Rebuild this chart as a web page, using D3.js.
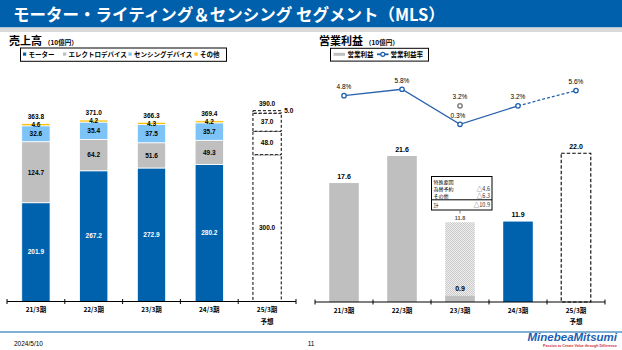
<!DOCTYPE html>
<html>
<head>
<meta charset="utf-8">
<script src="https://cdn.jsdelivr.net/npm/d3@7"></script>
<style>
  body { margin: 0; background: #fff; }
  svg { display: block; }
  text { font-family: "Liberation Sans", "Noto Sans CJK JP", sans-serif; }
  .jp { font-family: "Noto Sans CJK JP", sans-serif; }
</style>
</head>
<body>
<div id="svganchor"></div>
<script>
// --- data ---
let periods = ["21/3期", "22/3期", "23/3期", "24/3期", "25/3期"];
let segments = ["モーター", "エレクトロデバイス", "センシングデバイス", "その他"];
let motor = [201.9, 267.2, 272.9, 280.2, 300.0];
let electro = [124.7, 64.2, 51.6, 49.3, 48.0];
let sensing = [32.6, 35.4, 37.5, 35.7, 37.0];
let others = [4.6, 4.2, 4.3, 4.2, 5.0];
let sales = [363.8, 371.0, 366.3, 369.4, 390.0];
let opIncome = [17.6, 21.6, 0.9, 11.9, 22.0];
let opIncomeExSpecial = 11.8; // 23/3 before special factors
let opMargin = [4.8, 5.8, 0.3, 3.2, 5.6];
let opMarginExSpecial = 3.2;
let specialLabels = ["為替予約", "その他", "計"];
let specialValues = ["△4.6", "△6.3", "△10.9"];

let width = 622, height = 350;
let segColors = ["#0062ad", "#bfbfbf", "#7dc3f7", "#ffc000"];
let blue = "#0062ad";

let svg = d3.select("#svganchor").append("svg").attr("width", width).attr("height", height);

let defs = svg.append("defs");
let pat = defs.append("pattern").attr("id", "checker").attr("width", 2).attr("height", 2)
  .attr("patternUnits", "userSpaceOnUse");
pat.append("rect").attr("width", 2).attr("height", 2).attr("fill", "#f0f0f0");
pat.append("rect").attr("width", 1).attr("height", 1).attr("fill", "#c8c8c8");
pat.append("rect").attr("x", 1).attr("y", 1).attr("width", 1).attr("height", 1).attr("fill", "#c8c8c8");

// --- header ---
svg.append("rect").attr("x", 0).attr("y", 0).attr("width", width).attr("height", 27.5).attr("fill", "#0060ab");
svg.append("rect").attr("x", 0).attr("y", 27.5).attr("width", width).attr("height", 4.5).attr("fill", "#d9d9d9");
svg.append("text").attr("class", "jp").attr("x", 13).attr("y", 20.5)
  .attr("fill", "#fff").attr("font-size", 16.5).attr("font-weight", "bold")
  .text("モーター・ライティング＆センシング セグメント（MLS）");

// --- footer ---
svg.append("line").attr("x1", 0).attr("x2", width).attr("y1", 332).attr("y2", 332)
  .attr("stroke", "#0060ab").attr("stroke-width", 1.2);
svg.append("text").attr("x", 14).attr("y", 346).attr("font-size", 6.5).text("2024/5/10");
svg.append("text").attr("x", 311).attr("y", 346).attr("font-size", 6.5).attr("text-anchor", "middle").text("11");
svg.append("text").attr("x", 617).attr("y", 341).attr("font-size", 11.5).attr("font-weight", "bold")
  .attr("font-style", "italic").attr("text-anchor", "end").attr("fill", "#1a5fb4").text("MinebeaMitsumi");
svg.append("text").attr("x", 617).attr("y", 347).attr("font-size", 3.6).attr("font-weight", "bold")
  .attr("text-anchor", "end").attr("fill", "#d0303a").text("Passion to Create Value through Difference");

// helpers
function panelTitle(x, main) {
  let t = svg.append("text").attr("class", "jp").attr("x", x).attr("y", 45).attr("font-weight", "bold");
  t.append("tspan").attr("font-size", 11).text(main);
  t.append("tspan").attr("font-size", 6.5).attr("dx", 2).text("（10億円）");
}

function drawAxis(x, y0) {
  let g = svg.append("g");
  let r = x.range();
  g.append("line").attr("x1", r[0]).attr("x2", r[1]).attr("y1", y0).attr("y2", y0)
    .attr("stroke", "#000").attr("stroke-width", 1);
  let edges = periods.map(d => x(d)).concat([r[1]]);
  g.selectAll(".tk").data(edges).enter().append("line")
    .attr("x1", d => d).attr("x2", d => d).attr("y1", y0 - 2.5).attr("y2", y0 + 2.5)
    .attr("stroke", "#000").attr("stroke-width", 1);
  g.selectAll(".lb").data(periods).enter().append("text")
    .attr("class", "jp")
    .attr("x", d => x(d) + x.bandwidth() / 2).attr("y", y0 + 10.5)
    .attr("text-anchor", "middle").attr("font-size", 6.5).attr("font-weight", "bold")
    .text(d => d);
  g.append("text").attr("class", "jp")
    .attr("x", x(periods[4]) + x.bandwidth() / 2).attr("y", y0 + 22)
    .attr("text-anchor", "middle").attr("font-size", 6.5).attr("font-weight", "bold").text("予想");
}

// ================= left: sales =================
panelTitle(9, "売上高");

let lx = d3.scaleBand().domain(periods).range([7, 296]).padding(0);
let ly = d3.scaleLinear().domain([0, 390]).range([301.5, 110.7]);
let lbw = lx.bandwidth() * 0.49;

// legend
let lLeg = svg.append("g");
lLeg.append("rect").attr("x", 20.5).attr("y", 48).attr("width", 206).attr("height", 13.3)
  .attr("fill", "#fff").attr("stroke", "#000").attr("stroke-width", 1);
let legX = [23, 63, 128.5, 194.5];
segments.forEach((s, i) => {
  lLeg.append("rect").attr("x", legX[i]).attr("y", 52.5).attr("width", 3.2).attr("height", 3.2).attr("fill", segColors[i]);
  lLeg.append("text").attr("class", "jp").attr("x", legX[i] + 5.5).attr("y", 56.8)
    .attr("font-size", 6.5).attr("font-weight", "bold").text(s);
});

let stackData = periods.map((p, i) => ({ period: p, m: motor[i], e: electro[i], s: sensing[i], o: others[i] }));
let stack = d3.stack().keys(["m", "e", "s", "o"])(stackData);

let lBars = svg.append("g");
stack.forEach((layer, k) => {
  layer.forEach((d, i) => {
    let fc = i === 4;
    lBars.append("rect")
      .attr("x", lx(periods[i]) + (lx.bandwidth() - lbw) / 2)
      .attr("y", ly(d[1]))
      .attr("width", lbw)
      .attr("height", ly(d[0]) - ly(d[1]))
      .attr("fill", fc ? "#fff" : segColors[k])
      .attr("stroke", fc ? "#000" : "#fff")
      .attr("stroke-width", fc ? 1 : 0.8)
      .attr("stroke-dasharray", fc ? "3,2" : null);
  });
});

// segment labels
let segVals = [motor, electro, sensing, others];
stack.forEach((layer, k) => {
  layer.forEach((d, i) => {
    let cx = lx(periods[i]) + lx.bandwidth() / 2;
    let cy = (ly(d[0]) + ly(d[1])) / 2;
    let v = segVals[k][i];
    if (k === 3 && i === 4) {
      lBars.append("text").attr("x", lx(periods[i]) + (lx.bandwidth() + lbw) / 2 + 3).attr("y", ly(d[1]) + 2.5)
        .attr("font-size", 6.5).attr("font-weight", "bold").text(v.toFixed(1));
      return;
    }
    lBars.append("text").attr("x", cx).attr("y", cy + 2.3)
      .attr("text-anchor", "middle").attr("font-size", 6.5).attr("font-weight", "bold")
      .attr("fill", k === 0 && i < 4 ? "#fff" : "#000")
      .text(v.toFixed(1));
  });
});
// totals
sales.forEach((v, i) => {
  lBars.append("text").attr("x", lx(periods[i]) + lx.bandwidth() / 2).attr("y", ly(v) - 4.5)
    .attr("text-anchor", "middle").attr("font-size", 6.5).attr("font-weight", "bold").text(v.toFixed(1));
});

drawAxis(lx, 301.5);

// ================= right: operating income =================
panelTitle(319, "営業利益");

let rx = d3.scaleBand().domain(periods).range([315, 605]).padding(0);
let ry = d3.scaleLinear().domain([0, 22]).range([302, 153.3]);
let rm = d3.scaleLinear().domain([0, 6]).range([126.2, 88.0]);
let rbw = rx.bandwidth() * 0.51;
let rcx = p => rx(p) + rx.bandwidth() / 2;

// legend
let rLeg = svg.append("g");
rLeg.append("rect").attr("x", 330.5).attr("y", 48.3).attr("width", 98).attr("height", 12.8)
  .attr("fill", "#fff").attr("stroke", "#000").attr("stroke-width", 1);
rLeg.append("rect").attr("x", 333.5).attr("y", 52.8).attr("width", 11.5).attr("height", 3).attr("fill", "#bfbfbf");
rLeg.append("text").attr("class", "jp").attr("x", 347.5).attr("y", 56.8).attr("font-size", 6.5).attr("font-weight", "bold").text("営業利益");
rLeg.append("line").attr("x1", 377).attr("x2", 388.5).attr("y1", 54.3).attr("y2", 54.3).attr("stroke", "#1f5fae").attr("stroke-width", 1.8);
rLeg.append("circle").attr("cx", 382.8).attr("cy", 54.3).attr("r", 2).attr("fill", "#fff").attr("stroke", "#1f5fae").attr("stroke-width", 1.2);
rLeg.append("text").attr("class", "jp").attr("x", 390.5).attr("y", 56.8).attr("font-size", 6.5).attr("font-weight", "bold").text("営業利益率");

let rBars = svg.append("g");
// 23/3 before special factors (checker)
rBars.append("rect").attr("x", rcx(periods[2]) - rbw / 2).attr("y", ry(opIncomeExSpecial))
  .attr("width", rbw).attr("height", ry(0) - ry(opIncomeExSpecial)).attr("fill", "url(#checker)");
rBars.append("text").attr("x", rcx(periods[2])).attr("y", ry(opIncomeExSpecial) - 2.5)
  .attr("text-anchor", "middle").attr("font-size", 5.5).attr("font-weight", "bold").attr("fill", "#555")
  .text(opIncomeExSpecial.toFixed(1));

rBars.selectAll(".bar").data(opIncome).enter().append("rect")
  .attr("x", (d, i) => rcx(periods[i]) - rbw / 2)
  .attr("y", d => ry(d))
  .attr("width", rbw)
  .attr("height", d => ry(0) - ry(d))
  .attr("fill", (d, i) => i === 3 ? blue : i === 4 ? "#fff" : "#bfbfbf")
  .attr("stroke", (d, i) => i === 4 ? "#000" : "none")
  .attr("stroke-width", 1.1)
  .attr("stroke-dasharray", (d, i) => i === 4 ? "3.5,2" : null);

rBars.selectAll(".val").data(opIncome).enter().append("text")
  .attr("x", (d, i) => rcx(periods[i]))
  .attr("y", d => ry(d) - 4.5)
  .attr("text-anchor", "middle").attr("font-size", 7).attr("font-weight", "bold")
  .text(d => d.toFixed(1));

// special factors box
let bx = rcx(periods[2]) - 28.5, by = 176.5;
let note = svg.append("g");
note.append("rect").attr("x", bx).attr("y", by).attr("width", 60.5).attr("height", 33.5)
  .attr("fill", "#fff").attr("stroke", "#000").attr("stroke-width", 1);
note.append("line").attr("x1", bx).attr("x2", bx + 60.5).attr("y1", by + 23.3).attr("y2", by + 23.3)
  .attr("stroke", "#000").attr("stroke-width", 1);
note.append("text").attr("class", "jp").attr("x", bx + 2).attr("y", by + 7).attr("font-size", 5).text("特殊要因");
specialLabels.forEach((s, i) => {
  let yy = by + [14, 21, 30.5][i];
  note.append("text").attr("class", "jp").attr("x", bx + 2).attr("y", yy).attr("font-size", 5).text(s);
  note.append("text").attr("class", "jp").attr("x", bx + 58.5).attr("y", yy).attr("font-size", 5.5)
    .attr("text-anchor", "end").attr("fill", "#333").text(specialValues[i]);
});
note.append("line").attr("x1", rcx(periods[2])).attr("x2", rcx(periods[2])).attr("y1", by + 34).attr("y2", by + 37)
  .attr("stroke", "#555").attr("stroke-width", 0.8);

// margin line
let pts = opMargin.map((v, i) => [rcx(periods[i]), rm(v)]);
let line = d3.line();
svg.append("path").attr("d", line(pts.slice(0, 4))).attr("fill", "none").attr("stroke", "#2a62ad").attr("stroke-width", 1.3);
svg.append("path").attr("d", line(pts.slice(3))).attr("fill", "none").attr("stroke", "#2a62ad")
  .attr("stroke-width", 1.3).attr("stroke-dasharray", "3,2");
svg.selectAll(".mk").data(pts).enter().append("circle")
  .attr("cx", d => d[0]).attr("cy", d => d[1]).attr("r", 2.2)
  .attr("fill", "#fff").attr("stroke", "#1f5fae").attr("stroke-width", 1.3);
svg.append("circle").attr("cx", rcx(periods[2])).attr("cy", rm(opMarginExSpecial)).attr("r", 2.2)
  .attr("fill", "#fff").attr("stroke", "#808080").attr("stroke-width", 1.5);

svg.selectAll(".ml").data(opMargin).enter().append("text")
  .attr("x", (d, i) => rcx(periods[i]) + (i === 2 ? -2 : 0))
  .attr("y", d => rm(d) - 6.5)
  .attr("text-anchor", "middle").attr("font-size", 6.5)
  .text(d => d.toFixed(1) + "%");
svg.append("text").attr("x", rcx(periods[2])).attr("y", rm(opMarginExSpecial) - 6.5)
  .attr("text-anchor", "middle").attr("font-size", 6.5).text(opMarginExSpecial.toFixed(1) + "%");

drawAxis(rx, 302);
</script>
</body>
</html>
